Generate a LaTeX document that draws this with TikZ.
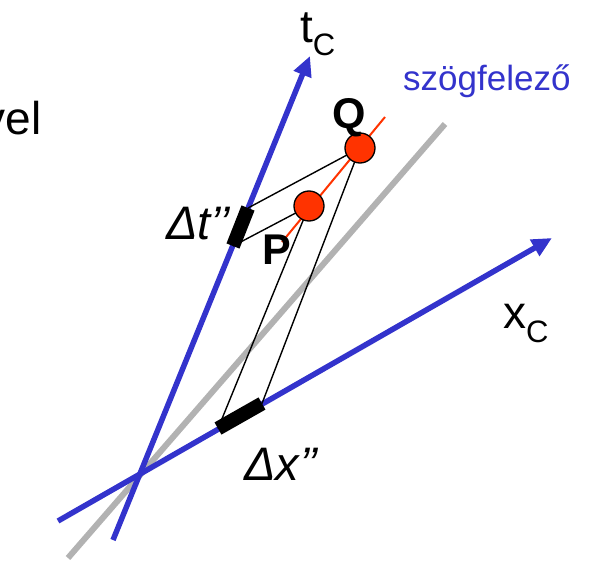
\documentclass[tikz,border=0pt]{standalone}
\usepackage{fontspec}
\setmainfont{Liberation Sans}
\usetikzlibrary{arrows.meta}

\definecolor{axisblue}{RGB}{51,51,204}
\definecolor{eventred}{RGB}{255,51,0}

\tikzset{
  axisline/.style={axisblue, line width=5.5pt, -{Triangle[length=20pt,width=18pt]}},
  bisector/.style={black!30, line width=6pt},
  worldline/.style={eventred, line width=2pt},
  projline/.style={black, line width=1.4pt},
  interval/.style={black, line width=14pt},
  event/.style={circle, draw=black, line width=1.3pt, fill=eventred, minimum size=30pt, inner sep=0pt},
  bigtext/.style={font=\fontsize{46}{50}\selectfont, inner sep=0pt},
  midtext/.style={font=\fontsize{47}{50}\selectfont\itshape, inner sep=0pt},
  boldtext/.style={font=\fontsize{43}{46}\selectfont\bfseries, inner sep=0pt},
}

\begin{document}
\begin{tikzpicture}[x=1pt, y=-1pt]
    \useasboundingbox (0,0) rectangle (590,562);

    % szogfelezo (gray) and the two axes
    \draw[bisector] (68,558) -- (445,124);
    \draw[axisline] (113,540) -- (310,56);
    \draw[axisline] (58,521) -- (552,238);

    % ends of the two intervals
    \coordinate (tTop) at (248,208);
    \coordinate (tBot) at (233,246);
    \coordinate (xLeft) at (218,428.5);
    \coordinate (xRight) at (262,403.5);

    % world line through P and Q
    \draw[worldline] (282,242) -- (385,117);

    % projections
    \coordinate (Pc) at (309,206);
    \coordinate (Qc) at (360,148);
    \draw[projline] (tTop) -- (Qc) -- (xRight);
    \draw[projline] (tBot) -- (Pc) -- (xLeft);

    \draw[interval] (tTop) -- (tBot);
    \draw[interval] (xLeft) -- (xRight);

    \node[event] (P) at (Pc) {};
    \node[event] (Q) at (Qc) {};

    % labels
    \node[bigtext, anchor=base west] (tlabel) at (300,42) {t\raisebox{-13pt}{\fontsize{31}{31}\selectfont C}};
    \node[bigtext, anchor=base west] (xlabel) at (503,328) {x\raisebox{-14pt}{\fontsize{31}{31}\selectfont C}};
    \node[font=\fontsize{35}{40}\selectfont, text=axisblue, inner sep=0pt, anchor=base west] (bisectlabel) at (403,90) {szögfelező};
    \node[boldtext, anchor=base west] (Qlabel) at (332,128) {Q};
    \node[boldtext, anchor=base west] (Plabel) at (262,264) {P};
    \node[midtext, anchor=base east] (dtlabel) at (230,239) {Δt’’};
    \node[midtext, anchor=base west] (dxlabel) at (244,480) {Δx’’};
    \node[bigtext, anchor=base east] (vellabel) at (42,134) {vel};
\end{tikzpicture}
\end{document}
